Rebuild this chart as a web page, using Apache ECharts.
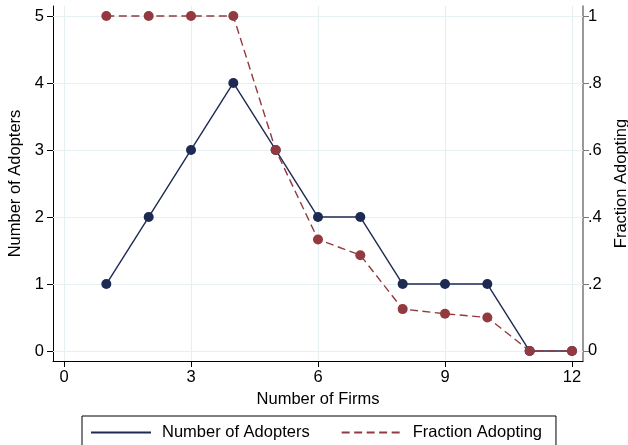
<!DOCTYPE html>
<html><head><meta charset="utf-8">
<script src="https://cdn.jsdelivr.net/npm/echarts@6/dist/echarts.min.js"></script>
<style>html,body{margin:0;padding:0;background:#fff}#c{width:628px;height:445px}</style>
</head><body><div id="c"></div>
<script>
const firms = [1,2,3,4,5,6,7,8,9,10,11,12];
const adopters = [1,2,3,4,3,2,2,1,1,1,0,0];
const fraction = [1,1,1,1,0.6,0.333,0.286,0.125,0.111,0.1,0,0];
const xTicks = [0,3,6,9,12];
const yLeftTicks = [0,1,2,3,4,5];
const yRightTicks = [0,0.2,0.4,0.6,0.8,1];

const FONT = 'Liberation Sans';
const FS = 16.5;
const navy = '#1d2a52';
const red = '#933a40';
const gridC = '#e6eff2';

const chart = echarts.init(document.getElementById('c'));
chart.setOption({
  animation:false,
  backgroundColor:'#fff',
  textStyle:{fontFamily:FONT},
  grid:{left:53,right:45,top:6,bottom:84,outerBoundsMode:'none',containLabel:false},
  legend:{
    left:82, top:416, padding:[8,14,24,8], itemGap:31,
    borderColor:'#000', borderWidth:1, borderRadius:0,
    itemWidth:60, itemHeight:14,
    itemStyle:{color:'transparent',borderWidth:0},
    textStyle:{fontFamily:FONT,fontSize:FS,color:'#000',padding:[0,0,0,6]},
    data:['Number of Adopters','Fraction Adopting']
  },
  xAxis:{
    type:'value', min:-0.26, max:12.26,
    name:'Number of Firms', nameLocation:'middle', nameGap:27,
    nameTextStyle:{fontFamily:FONT,fontSize:FS,color:'#000'},
    axisLine:{show:true,onZero:false,lineStyle:{color:'#000',width:1}},
    axisTick:{show:true,length:6,customValues:xTicks,lineStyle:{color:'#000'}},
    axisLabel:{customValues:xTicks,fontSize:FS,color:'#000',margin:8},
    splitLine:{show:false}
  },
  yAxis:[{
    type:'value', min:-0.149, max:5.149, position:'left',
    name:'Number of Adopters', nameLocation:'middle', nameGap:23,
    nameTextStyle:{fontFamily:FONT,fontSize:FS,color:'#000'},
    axisLine:{show:true,onZero:false,lineStyle:{color:'#000',width:1}},
    axisTick:{show:true,length:6,customValues:yLeftTicks,lineStyle:{color:'#000'}},
    axisLabel:{customValues:yLeftTicks,fontSize:FS,color:'#000',margin:9},
    splitLine:{show:false}
  },{
    type:'value', min:-0.03, max:1.03, position:'right',
    name:'Fraction Adopting', nameLocation:'middle', nameGap:30, nameRotate:90,
    nameTextStyle:{fontFamily:FONT,fontSize:FS,color:'#000'},
    axisLine:{show:true,onZero:false,lineStyle:{color:'#777',width:1.5}},
    axisTick:{show:true,length:6,customValues:yRightTicks,lineStyle:{color:'#777'}},
    axisLabel:{customValues:yRightTicks,fontSize:FS,color:'#000',margin:5,
      formatter:v=>{ if(Math.abs(v)<1e-9) return '0'; if(Math.abs(v-1)<1e-9) return '1'; return '.'+Math.round(v*10);} },
    splitLine:{show:false}
  }],
  series:[{
    name:'Number of Adopters', type:'line', yAxisIndex:0,
    data:firms.map((f,i)=>[f,adopters[i]]),
    symbol:'circle', symbolSize:10, clip:false, z:3,
    lineStyle:{color:navy,width:1.4},
    itemStyle:{color:navy},
    markLine:{
      silent:true, symbol:['none','none'], label:{show:false}, z:1,
      lineStyle:{color:gridC,width:1.2,type:'solid'},
      data:[...xTicks.map(v=>({xAxis:v})),...yLeftTicks.map(v=>({yAxis:v}))]
    }
  },{
    name:'Fraction Adopting', type:'line', yAxisIndex:1,
    data:firms.map((f,i)=>[f,fraction[i]]),
    symbol:'circle', symbolSize:10, clip:false, z:4,
    lineStyle:{color:red,width:1.4,type:[8,4.5]},
    itemStyle:{color:red}
  }]
});
</script></body></html>
